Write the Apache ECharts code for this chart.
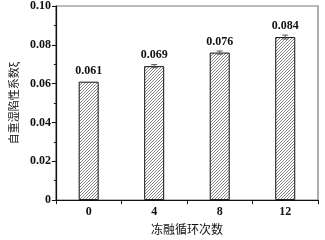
<!DOCTYPE html>
<html><head><meta charset="utf-8">
<script src="https://cdn.jsdelivr.net/npm/echarts@6/dist/echarts.min.js"></script>
<style>html,body{margin:0;padding:0;background:#fff}#c{width:325px;height:240px}</style>
</head><body><div id="c"></div>
<script>
var categories = ['0', '4', '8', '12'];
var values = [0.061, 0.069, 0.076, 0.084];
var errors = [0, 0.0008, 0.0008, 0.001];
var valueLabels = ['0.061', '0.069', '0.076', '0.084'];
var yTicks = [0, 0.02, 0.04, 0.06, 0.08, 0.10];

var pc = document.createElement('canvas');
pc.width = 3; pc.height = 3;
var g = pc.getContext('2d');
g.fillStyle = '#fff'; g.fillRect(0,0,3,3);
g.strokeStyle = '#666'; g.lineWidth = 0.8;
g.beginPath();
g.moveTo(0,3); g.lineTo(3,0);
g.moveTo(-1,1); g.lineTo(1,-1);
g.moveTo(2,4); g.lineTo(4,2);
g.stroke();

var serif = '"Liberation Serif","DejaVu Serif",serif';
var chart = echarts.init(document.getElementById('c'));
chart.setOption({
  animation: false,
  grid: {left: 52, right: 7, top: 6, bottom: 36, show: true, borderColor: '#777', borderWidth: 1.2},
  xAxis: {
    type: 'category', data: categories,
    name: '冻融循环次数', nameLocation: 'middle', nameGap: 18,
    nameTextStyle: {fontFamily: '"Noto Sans CJK SC"', fontSize: 12, color: '#111'},
    axisLine: {lineStyle: {color: '#111', width: 1.2}},
    axisTick: {show: true, length: 4, inside: false, lineStyle: {color: '#111'}},
    axisLabel: {fontFamily: serif, fontWeight: 'bold', fontSize: 12, color: '#111', margin: 6}
  },
  yAxis: {
    type: 'value', min: 0, max: 0.1, interval: 0.02,
    name: '自重湿陷性系数ξ', nameLocation: 'middle', nameGap: 36,
    nameTextStyle: {fontFamily: '"Noto Sans CJK SC"', fontSize: 11, color: '#111'},
    axisLine: {show: true, lineStyle: {color: '#111', width: 1.2}},
    axisTick: {show: true, length: 4, lineStyle: {color: '#111'}},
    minorTick: {show: true, splitNumber: 2, length: 2, lineStyle: {color: '#111'}},
    splitLine: {show: false},
    axisLabel: {fontFamily: serif, fontWeight: 'bold', fontSize: 12, color: '#111', margin: 5,
      formatter: function(v){ return v === 0 ? '0' : v.toFixed(2); }}
  },
  series: [{
    type: 'bar', data: values, barWidth: 20,
    itemStyle: {color: {image: pc, repeat: 'repeat'}, borderColor: '#111', borderWidth: 1},
    label: {show: true, position: 'top', distance: 5, fontFamily: serif, fontWeight: 'bold', fontSize: 12, color: '#111',
      formatter: function(p){ return valueLabels[p.dataIndex]; }}
  }, {
    type: 'custom',
    data: values.map(function(v,i){ return [i, v, errors[i]]; }),
    renderItem: function(params, api){
      var e = api.value(2);
      if (!e) return null;
      var x = api.value(0), v = api.value(1);
      var top = api.coord([x, v + e]), bot = api.coord([x, v - e]);
      var w = 3;
      var st = {stroke: '#555', lineWidth: 1};
      return {type: 'group', children: [
        {type: 'line', shape: {x1: top[0], y1: top[1], x2: bot[0], y2: bot[1]}, style: st},
        {type: 'line', shape: {x1: top[0]-w, y1: top[1], x2: top[0]+w, y2: top[1]}, style: st},
        {type: 'line', shape: {x1: bot[0]-w, y1: bot[1], x2: bot[0]+w, y2: bot[1]}, style: st}
      ]};
    },
    z: 5
  }]
});
</script></body></html>
